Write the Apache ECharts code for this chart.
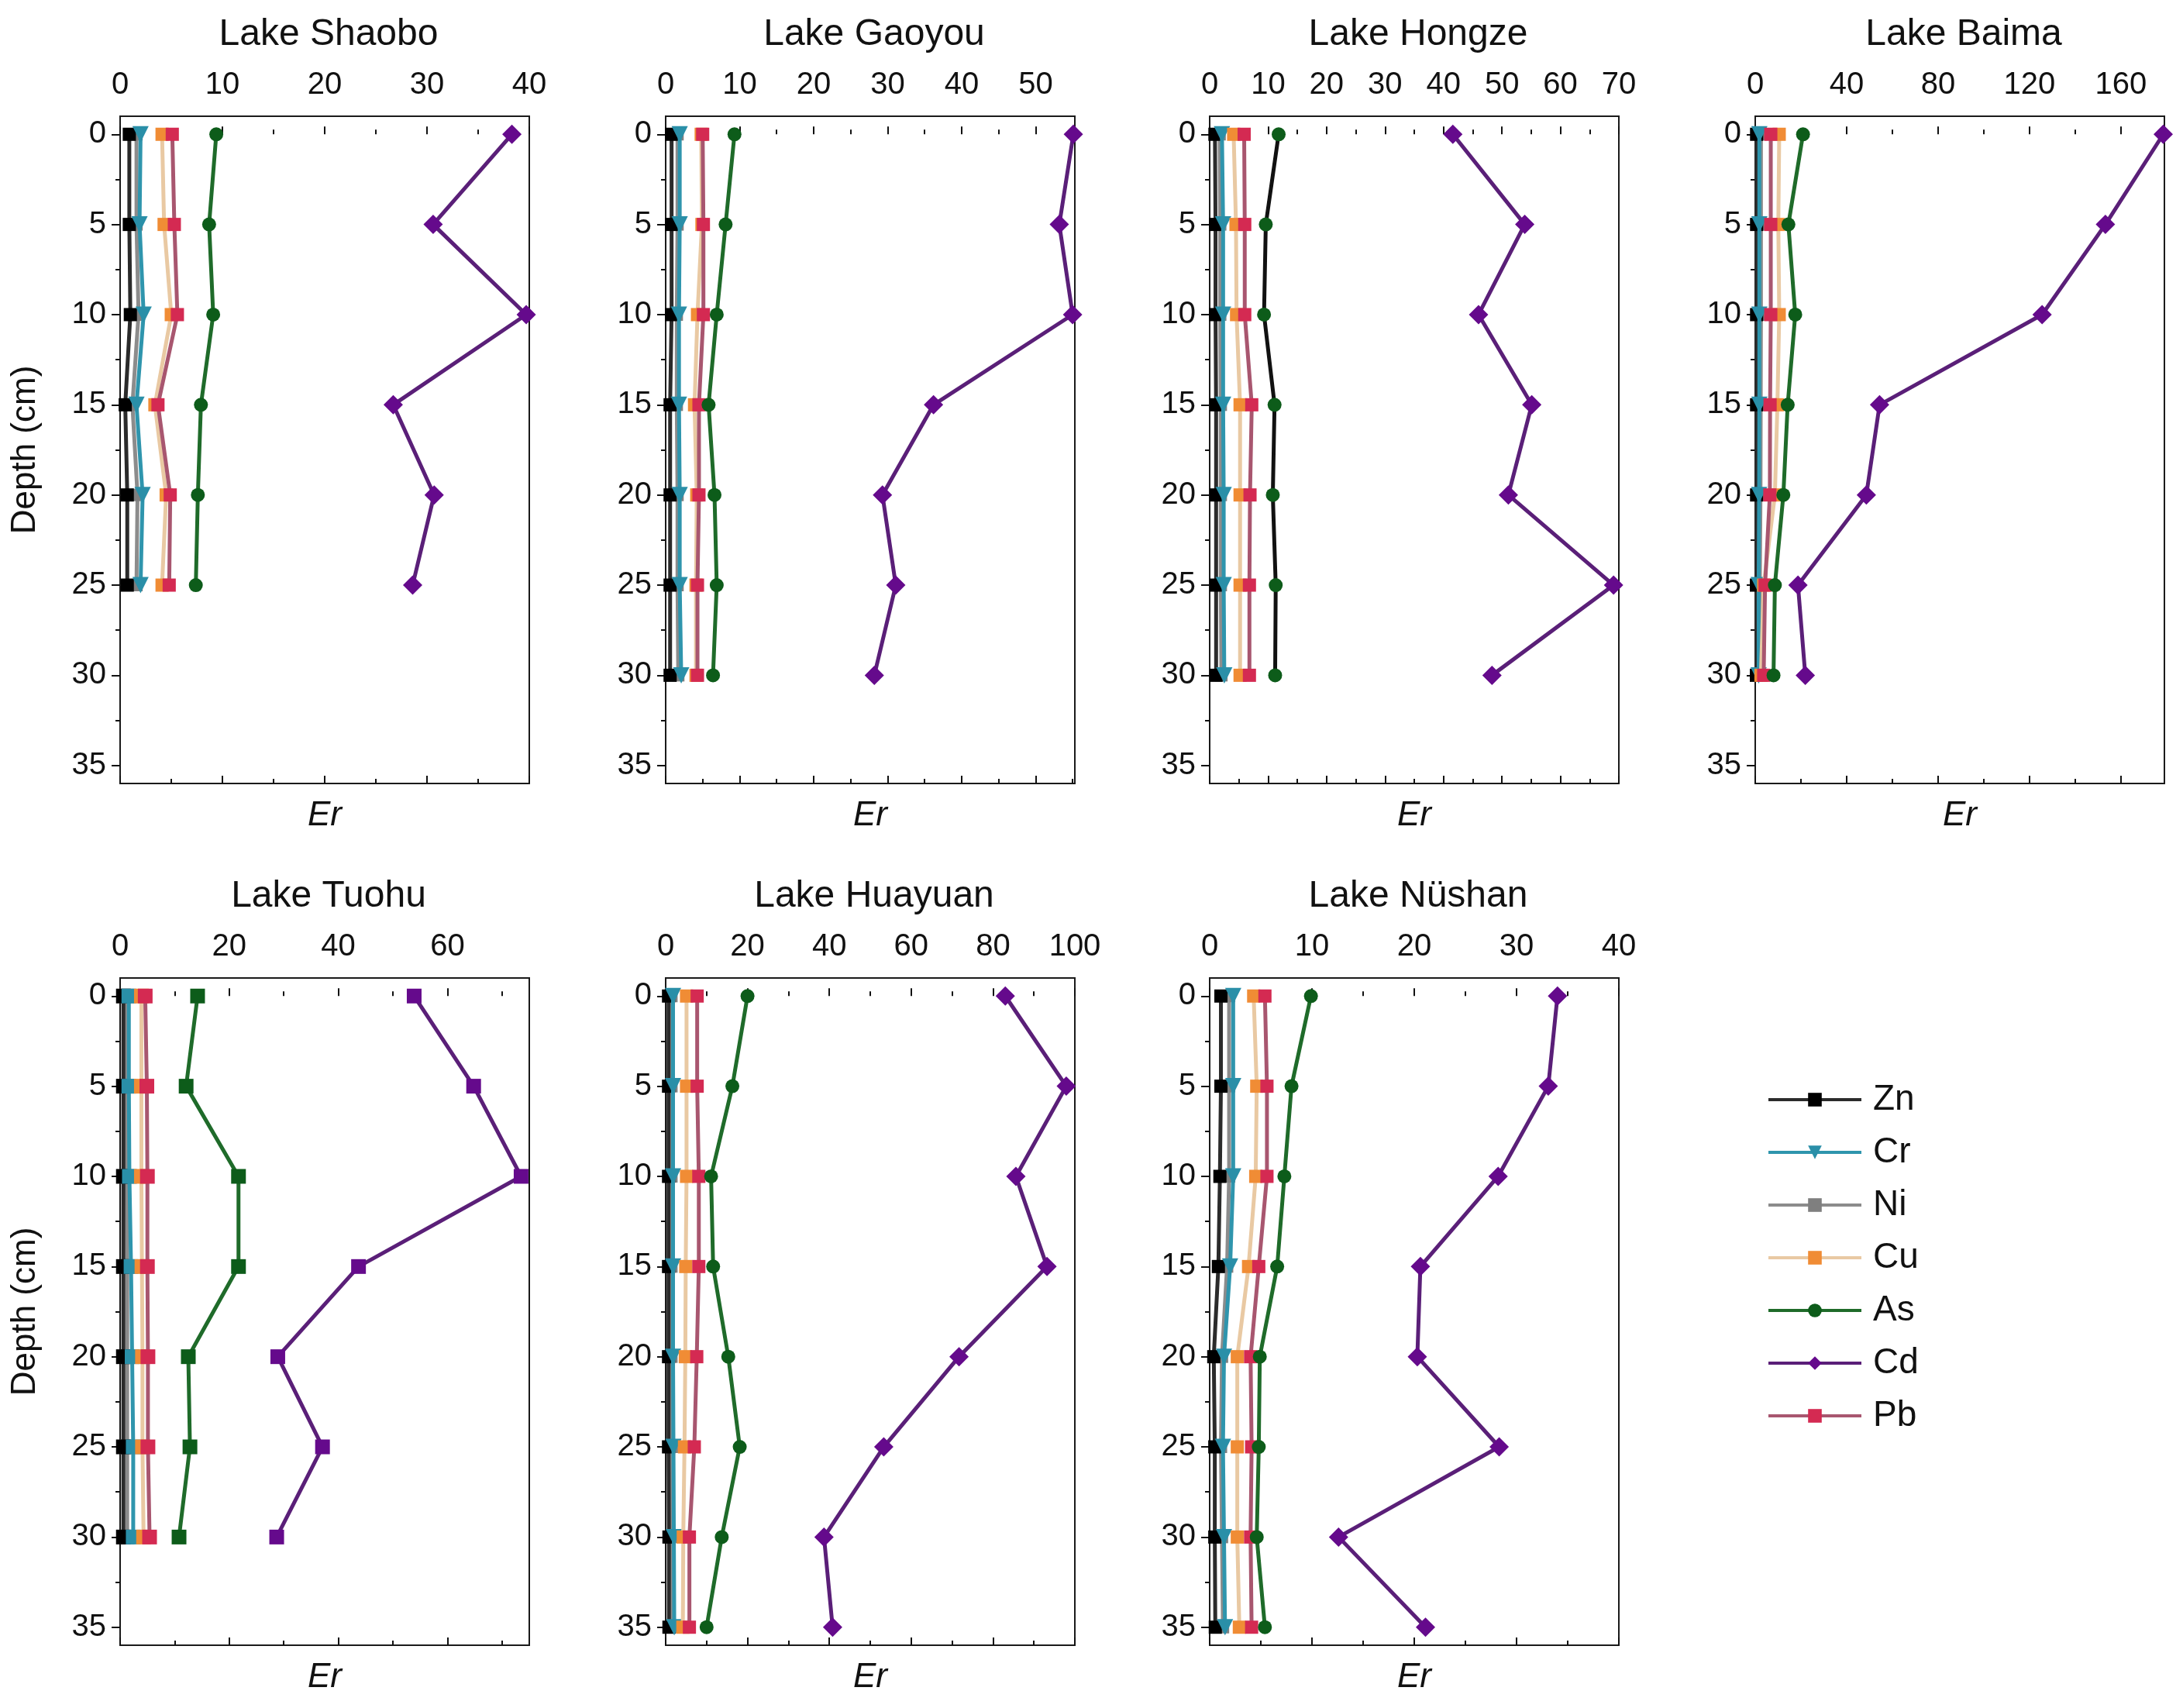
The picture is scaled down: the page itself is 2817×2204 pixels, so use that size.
<!DOCTYPE html>
<html>
<head>
<meta charset="utf-8">
<script src="https://cdn.jsdelivr.net/npm/echarts@6.0.0/dist/echarts.min.js"></script>
<style>
  html, body { margin: 0; padding: 0; background: #fff; }
  #main { width: 2817px; height: 2204px; }
</style>
</head>
<body>
<div id="main"></div>
<script>
// element names, depth levels (cm)
var elements = ["Zn", "Cr", "Ni", "Cu", "As", "Cd", "Pb"];
var depthTicks = [0, 5, 10, 15, 20, 25, 30, 35];
var depthMinor = [2.5, 7.5, 12.5, 17.5, 22.5, 27.5, 32.5];
var depth6 = [0, 5, 10, 15, 20, 25];
var depth7 = [0, 5, 10, 15, 20, 25, 30];
var depth8 = [0, 5, 10, 15, 20, 25, 30, 35];

// Er values
var shaoboZn = [0.9, 0.9, 1.0, 0.5, 0.7, 0.7];
var shaoboCr = [2.0, 1.9, 2.3, 1.6, 2.2, 2.0];
var shaoboNi = [1.6, 1.6, 1.8, 1.2, 1.7, 1.6];
var shaoboCu = [4.1, 4.3, 5.0, 3.4, 4.5, 4.1];
var shaoboAs = [9.4, 8.7, 9.1, 7.9, 7.6, 7.4];
var shaoboCd = [38.3, 30.6, 39.7, 26.7, 30.7, 28.6];
var shaoboPb = [5.1, 5.3, 5.6, 3.7, 4.9, 4.8];

var gaoyouZn = [0.8, 0.8, 0.8, 0.6, 0.6, 0.6, 0.6];
var gaoyouCr = [1.9, 1.9, 1.8, 1.8, 1.9, 1.9, 2.1];
var gaoyouNi = [1.6, 1.6, 1.5, 1.5, 1.6, 1.6, 1.7];
var gaoyouCu = [4.8, 4.9, 4.3, 3.9, 4.2, 4.1, 4.1];
var gaoyouAs = [9.3, 8.1, 6.9, 5.8, 6.6, 6.9, 6.4];
var gaoyouCd = [55.1, 53.2, 55.0, 36.2, 29.3, 31.1, 28.2];
var gaoyouPb = [5.0, 5.1, 5.1, 4.5, 4.5, 4.3, 4.3];

var hongzeZn = [0.9, 1.0, 1.0, 1.1, 1.1, 1.1, 1.1];
var hongzeCr = [2.1, 2.3, 2.3, 2.3, 2.4, 2.4, 2.5];
var hongzeNi = [1.7, 1.8, 1.8, 1.9, 1.9, 1.9, 2.0];
var hongzeCu = [4.1, 4.5, 4.6, 5.2, 5.2, 5.2, 5.2];
var hongzeAs = [11.8, 9.6, 9.3, 11.1, 10.8, 11.3, 11.2];
var hongzeCd = [41.6, 53.9, 46.0, 55.1, 51.1, 69.1, 48.3];
var hongzePb = [5.9, 6.0, 6.0, 7.2, 6.9, 6.8, 6.8];

var baimaZn = [0.6, 0.6, 0.6, 0.6, 0.6, 0.5, 0.5];
var baimaCr = [1.8, 1.8, 1.8, 1.8, 1.7, 1.5, 1.5];
var baimaNi = [2.5, 2.5, 2.5, 2.4, 2.3, 2.0, 2.0];
var baimaCu = [10.5, 10.1, 10.5, 9.7, 8.6, 3.7, 2.5];
var baimaAs = [20.9, 14.5, 17.5, 14.2, 12.3, 8.6, 8.0];
var baimaCd = [178.5, 153.2, 125.5, 54.4, 48.6, 18.7, 21.9];
var baimaPb = [6.8, 6.8, 6.8, 6.5, 6.4, 4.3, 3.7];

var tuohuZn = [0.6, 0.6, 0.6, 0.6, 0.6, 0.6, 0.6];
var tuohuCr = [1.6, 1.6, 1.7, 2.0, 2.2, 2.4, 2.4];
var tuohuNi = [1.2, 1.2, 1.2, 1.3, 1.3, 1.3, 1.3];
var tuohuCu = [3.9, 3.9, 3.9, 4.0, 4.1, 4.1, 4.3];
var tuohuAs = [14.2, 12.1, 21.7, 21.7, 12.5, 12.8, 10.8];
var tuohuCd = [53.9, 64.8, 73.5, 43.7, 28.9, 37.1, 28.7];
var tuohuPb = [4.6, 4.9, 5.0, 5.0, 5.1, 5.1, 5.4];

var huayuanZn = [0.7, 0.7, 0.7, 0.7, 0.7, 0.7, 0.8, 0.8];
var huayuanCr = [1.8, 1.8, 1.8, 1.8, 1.8, 1.9, 2.0, 2.1];
var huayuanNi = [1.4, 1.4, 1.4, 1.4, 1.4, 1.5, 1.5, 1.5];
var huayuanCu = [5.1, 5.1, 5.1, 4.9, 4.8, 4.6, 4.3, 4.2];
var huayuanAs = [20.0, 16.3, 11.1, 11.6, 15.3, 18.1, 13.7, 10.0];
var huayuanCd = [83.0, 97.9, 85.6, 93.2, 71.7, 53.3, 38.7, 40.8];
var huayuanPb = [7.7, 7.7, 8.1, 8.1, 7.6, 7.0, 5.8, 5.8];

var nushanZn = [1.1, 1.1, 1.0, 0.85, 0.4, 0.5, 0.5, 0.55];
var nushanCr = [2.3, 2.3, 2.3, 2.0, 1.4, 1.3, 1.4, 1.5];
var nushanNi = [1.9, 1.9, 1.9, 1.7, 1.2, 1.1, 1.2, 1.3];
var nushanCu = [4.3, 4.6, 4.5, 3.8, 2.7, 2.7, 2.7, 2.9];
var nushanAs = [9.9, 8.0, 7.3, 6.6, 4.9, 4.8, 4.6, 5.4];
var nushanCd = [34.0, 33.1, 28.2, 20.6, 20.3, 28.3, 12.6, 21.1];
var nushanPb = [5.4, 5.6, 5.6, 4.8, 4.0, 4.1, 4.0, 4.1];

// panel layout (pixels) and x axis ranges
var lakes = [
  { title: "Lake Shaobo", depth: depth6, vals: [shaoboZn, shaoboCr, shaoboNi, shaoboCu, shaoboAs, shaoboCd, shaoboPb], max: 40, step: 10, col: 0, row: 0 },
  { title: "Lake Gaoyou", depth: depth7, vals: [gaoyouZn, gaoyouCr, gaoyouNi, gaoyouCu, gaoyouAs, gaoyouCd, gaoyouPb], max: 55.3, step: 10, col: 1, row: 0 },
  { title: "Lake Hongze", depth: depth7, vals: [hongzeZn, hongzeCr, hongzeNi, hongzeCu, hongzeAs, hongzeCd, hongzePb], max: 70, step: 10, col: 2, row: 0, asLine: "#111" },
  { title: "Lake Baima", depth: depth7, vals: [baimaZn, baimaCr, baimaNi, baimaCu, baimaAs, baimaCd, baimaPb], max: 179, step: 40, col: 3, row: 0 },
  { title: "Lake Tuohu", depth: depth7, vals: [tuohuZn, tuohuCr, tuohuNi, tuohuCu, tuohuAs, tuohuCd, tuohuPb], max: 75, step: 20, col: 0, row: 1, squares: true },
  { title: "Lake Huayuan", depth: depth8, vals: [huayuanZn, huayuanCr, huayuanNi, huayuanCu, huayuanAs, huayuanCd, huayuanPb], max: 100, step: 20, col: 1, row: 1 },
  { title: "Lake Nüshan", depth: depth8, vals: [nushanZn, nushanCr, nushanNi, nushanCu, nushanAs, nushanCd, nushanPb], max: 40, step: 10, col: 2, row: 1 }
];

var colLeft = [155, 859, 1561, 2265];
var rowTop = [150, 1262];
var gridW = 528, gridH = 861;
var FONT = "Liberation Sans, Arial, sans-serif";

// z decides which series sits on top (Ni hidden under Cr, Pb over Cu)
var styles = {
  Zn: { line: "#2b2b2b", mark: "#000000", symbol: "rect", size: 17, z: 3 },
  Cr: { line: "#2f95ad", mark: "#2a8fa8", symbol: "triangle", size: 21, rotate: 180, z: 4 },
  Ni: { line: "#8c8c8c", mark: "#7f7f7f", symbol: "rect", size: 16, z: 2 },
  Cu: { line: "#e9c9a3", mark: "#f08c35", symbol: "rect", size: 17, z: 5 },
  As: { line: "#1f6b2a", mark: "#0d5c1a", symbol: "circle", size: 18, z: 7 },
  Cd: { line: "#5a1f78", mark: "#650a8c", symbol: "diamond", size: 25, z: 8 },
  Pb: { line: "#a8566f", mark: "#d42a52", symbol: "rect", size: 17, z: 6 }
};

function ticks(max, step, offset) {
  var out = [];
  for (var v = offset; v <= max + 1e-9; v += step) out.push(+v.toFixed(3));
  return out;
}

var grids = [], xAxes = [], yAxes = [], series = [], titles = [];

lakes.forEach(function (lake, i) {
  var left = colLeft[lake.col], top = rowTop[lake.row];
  grids.push({ left: left, top: top, width: gridW, height: gridH, show: true,
    borderColor: "#1a1a1a", borderWidth: 2, containLabel: false });
  titles.push({ text: lake.title, left: left + gridW / 2, top: top - 134, textAlign: "center",
    textStyle: { fontFamily: FONT, fontSize: 48, fontWeight: "normal", color: "#111" } });

  var major = ticks(lake.max, lake.step, 0);
  var minor = ticks(lake.max, lake.step, lake.step / 2);
  var xBase = xAxes.length;
  var common = { gridIndex: i, type: "value", min: 0, max: lake.max, splitLine: { show: false },
    axisLine: { show: false } };
  xAxes.push(Object.assign({}, common, { position: "top",
    axisTick: { customValues: major, length: 10, lineStyle: { color: "#111", width: 2 } },
    axisLabel: { customValues: major, fontSize: 40, margin: 20, color: "#111", fontFamily: FONT } }));
  xAxes.push(Object.assign({}, common, { position: "top",
    axisTick: { customValues: minor, length: 6, lineStyle: { color: "#111", width: 2 } },
    axisLabel: { show: false } }));
  xAxes.push(Object.assign({}, common, { position: "bottom",
    name: "Er", nameLocation: "middle", nameGap: 20,
    nameTextStyle: { fontFamily: FONT, fontSize: 44, fontStyle: "italic", color: "#111", verticalAlign: "top" },
    axisTick: { customValues: major, inside: true, length: 10, lineStyle: { color: "#111", width: 2 } },
    axisLabel: { show: false } }));
  xAxes.push(Object.assign({}, common, { position: "bottom",
    axisTick: { customValues: minor, inside: true, length: 6, lineStyle: { color: "#111", width: 2 } },
    axisLabel: { show: false } }));

  var yBase = yAxes.length;
  var ycommon = { gridIndex: i, type: "value", inverse: true, min: -1, max: 36, position: "left",
    splitLine: { show: false }, axisLine: { show: false } };
  var yMain = Object.assign({}, ycommon, {
    axisTick: { customValues: depthTicks, length: 11, lineStyle: { color: "#111", width: 2 } },
    axisLabel: { customValues: depthTicks, fontSize: 40, margin: 18, color: "#111", fontFamily: FONT } });
  if (lake.col === 0) {
    yMain.name = "Depth (cm)";
    yMain.nameLocation = "middle";
    yMain.nameGap = 100;
    yMain.nameTextStyle = { fontFamily: FONT, fontSize: 44, color: "#111" };
  }
  yAxes.push(yMain);
  yAxes.push(Object.assign({}, ycommon, {
    axisTick: { customValues: depthMinor, length: 6, lineStyle: { color: "#111", width: 2 } },
    axisLabel: { show: false } }));

  elements.forEach(function (el, k) {
    var st = styles[el];
    var lineColor = (el === "As" && lake.asLine) ? lake.asLine : st.line;
    series.push({
      name: el, type: "line", xAxisIndex: xBase, yAxisIndex: yBase,
      data: lake.vals[k].map(function (v, j) { return [v, lake.depth[j]]; }),
      symbol: lake.squares ? "rect" : st.symbol,
      symbolSize: lake.squares ? 19 : st.size,
      symbolRotate: lake.squares ? 0 : (st.rotate || 0),
      lineStyle: { color: lineColor, width: 5 },
      itemStyle: { color: st.mark },
      clip: false, z: st.z
    });
  });
});

var myChart = echarts.init(document.getElementById("main"), null, { renderer: "canvas" });
myChart.setOption({
  animation: false,
  backgroundColor: "#ffffff",
  title: titles,
  grid: grids,
  xAxis: xAxes,
  yAxis: yAxes,
  legend: {
    data: elements, orient: "vertical", left: 2280, top: 1396,
    itemWidth: 120, itemHeight: 22, itemGap: 22, padding: 0,
    lineStyle: { width: 4 },
    textStyle: { fontFamily: FONT, fontSize: 46, color: "#111", lineHeight: 44, padding: [0, 0, 0, 10] }
  },
  series: series
});
</script>
</body>
</html>
